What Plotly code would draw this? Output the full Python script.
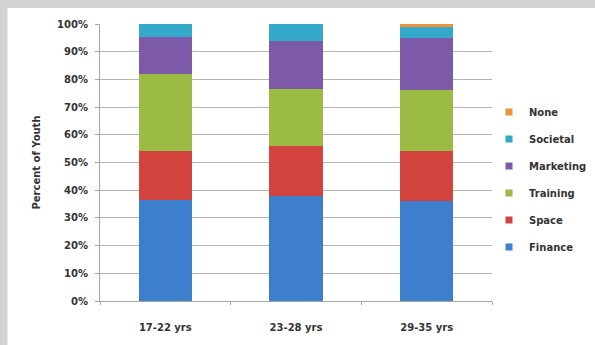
import plotly.graph_objects as go

categories = ["17-22 yrs", "23-28 yrs", "29-35 yrs"]
finance = [36.5, 38.0, 36.2]
space = [17.8, 17.8, 18.1]
training = [27.8, 20.7, 22.0]
marketing = [13.3, 17.5, 18.5]
societal = [4.6, 6.0, 4.2]
none_ = [0.0, 0.0, 1.0]

series = [
    ("Finance", finance, "#3d7fcc"),
    ("Space", space, "#d4443f"),
    ("Training", training, "#9bbb45"),
    ("Marketing", marketing, "#7d5aa8"),
    ("Societal", societal, "#35a9c9"),
    ("None", none_, "#f0913a"),
]
y_ticks = [0, 10, 20, 30, 40, 50, 60, 70, 80, 90, 100]
y_labels = [f"{v}%" for v in y_ticks]

FONT = "DejaVu Sans"

fig = go.Figure()
for name, vals, color in series:
    fig.add_trace(go.Bar(
        x=categories, y=vals, name=name, showlegend=False,
        marker=dict(color=color, line=dict(width=0)),
    ))
for name, vals, color in reversed(series):
    fig.add_trace(go.Scatter(
        x=[None], y=[None], mode="markers", name=name, legendgroup=name,
        marker=dict(symbol="square", size=7, color=color),
        showlegend=True,
    ))

W, H = 595, 345
L, R, T, B = 100, 103, 24, 44
pw = W - L - R
ph = H - T - B

fig.update_layout(
    width=W, height=H,
    barmode="stack",
    bargap=0.594,
    margin=dict(l=L, r=R, t=T, b=B, autoexpand=False),
    paper_bgcolor="#d3d3d3",
    plot_bgcolor="rgba(0,0,0,0)",
    font=dict(family=FONT, size=10, color="#333333"),
    showlegend=True,
    legend=dict(
        traceorder="grouped",
        x=(489 - L) / pw, xanchor="left",
        y=(H - B - 179.5) / ph, yanchor="middle",
        font=dict(size=10, color="#333333", family=FONT, weight="bold"),
        itemwidth=30,
        tracegroupgap=8,
        bgcolor="rgba(0,0,0,0)",
    ),
    shapes=[dict(
        type="rect", xref="paper", yref="paper",
        x0=(7.5 - L) / pw, x1=(W + 2 - L) / pw,
        y0=-(B + 2) / ph, y1=1 + (T - 8) / ph,
        fillcolor="white", line=dict(width=0), layer="below",
    )],
    xaxis=dict(
        showgrid=False,
        showline=True, linecolor="#a6a6a6", linewidth=1,
        ticks="outside", tickcolor="#a6a6a6", ticklen=3,
        tickson="boundaries",
        ticklabelstandoff=17,
        tickfont=dict(size=10, color="#333333", family=FONT, weight="bold"),
    ),
    yaxis=dict(
        range=[0, 100],
        tickvals=y_ticks, ticktext=y_labels,
        showgrid=True, gridcolor="#b5b5b5", gridwidth=1,
        showline=True, linecolor="#a6a6a6", linewidth=1,
        ticks="outside", tickcolor="#a6a6a6", ticklen=4,
        ticklabelstandoff=5,
        tickfont=dict(size=10, color="#333333", family=FONT, weight="bold"),
        title=dict(text="Percent of Youth", font=dict(size=10, color="#333333", family=FONT, weight="bold"), standoff=14),
        zeroline=False,
    ),
)

fig.write_html("out.html")
